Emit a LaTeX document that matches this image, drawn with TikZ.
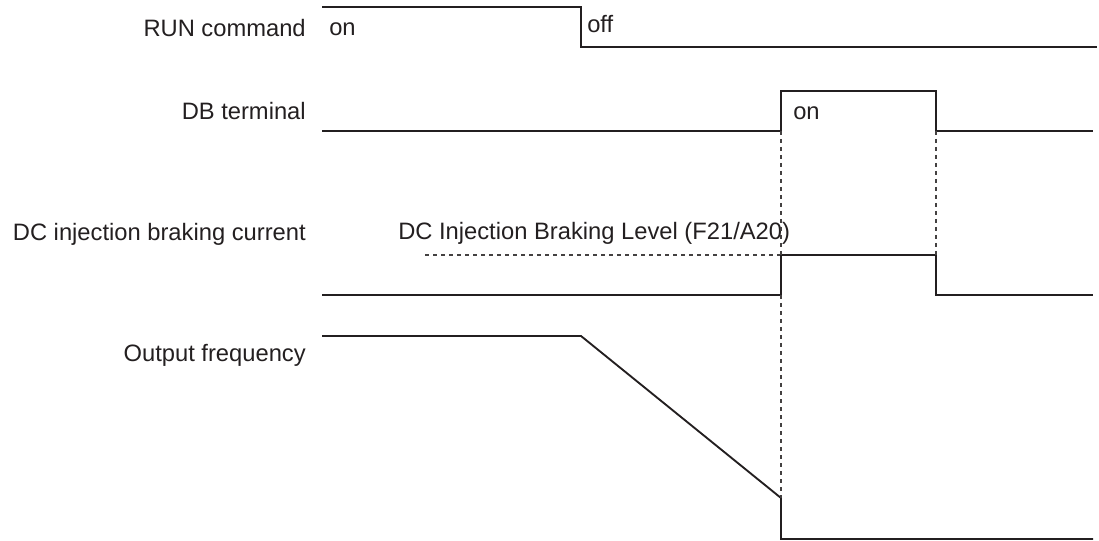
\documentclass[tikz,border=0pt]{standalone}
\usepackage{fontspec}
\setmainfont{Liberation Sans}
\definecolor{ink}{HTML}{231F20}

\begin{document}
\begin{tikzpicture}[
  x=0.75pt, y=-0.75pt,
  label/.style={anchor=base east, inner sep=0pt, text=ink, font=\fontsize{17.8}{20}\selectfont},
  note/.style={anchor=base west, inner sep=0pt, text=ink, font=\fontsize{17.8}{20}\selectfont},
  signal/.style={draw=ink, line width=1.4pt, line join=miter},
  guide/.style={draw=ink!85, line width=0.9pt, dash pattern=on 3pt off 3pt}
]
  \useasboundingbox (0,0) rectangle (1099,541);

  % Signal names.
  \node[label] (lrun) at (306,37) {RUN command};
  \node[label] (ldb) at (306,120) {DB terminal};
  \node[label] (ldc) at (306,241) {DC injection braking current};
  \node[label] (lfreq) at (306,362) {Output frequency};

  % RUN command.
  \coordinate (r0) at (322,7);
  \coordinate (r1) at (581,7);
  \coordinate (r2) at (581,47);
  \coordinate (r3) at (1097,47);
  \draw[signal] (r0)--(r1)--(r2)--(r3);
  \node[note] (ron) at (329,36) {on};
  \node[note] (roff) at (587,33) {off};

  % DB terminal.
  \coordinate (d0) at (322,131);
  \coordinate (d1) at (781,131);
  \coordinate (d2) at (781,91);
  \coordinate (d3) at (936,91);
  \coordinate (d4) at (936,131);
  \coordinate (d5) at (1093,131);
  \draw[signal] (d0)--(d1)--(d2)--(d3)--(d4)--(d5);
  \node[note] (don) at (793,120) {on};

  % DC injection braking current.
  \coordinate (c0) at (322,295);
  \coordinate (c1) at (781,295);
  \coordinate (c2) at (781,255);
  \coordinate (c3) at (936,255);
  \coordinate (c4) at (936,295);
  \coordinate (c5) at (1093,295);
  \coordinate (lvl) at (425,255);
  \draw[guide] (lvl)--(c2);
  \draw[signal] (c0)--(c1)--(c2)--(c3)--(c4)--(c5);
  \node[note] (clvl) at (398,240) {DC Injection Braking Level (F21/A20)};

  % Output frequency.
  \coordinate (f0) at (322,336);
  \coordinate (f1) at (581,336);
  \coordinate (f2) at (781,498);
  \coordinate (f3) at (781,539);
  \coordinate (f4) at (1093,539);
  \draw[signal] (f0)--(f1)--(f2)--(f3)--(f4);

  % Timing guides.
  \draw[guide] (d1)--(c2);
  \draw[guide] (c1)--(f2);
  \draw[guide] (d4)--(c3);
\end{tikzpicture}
\end{document}
